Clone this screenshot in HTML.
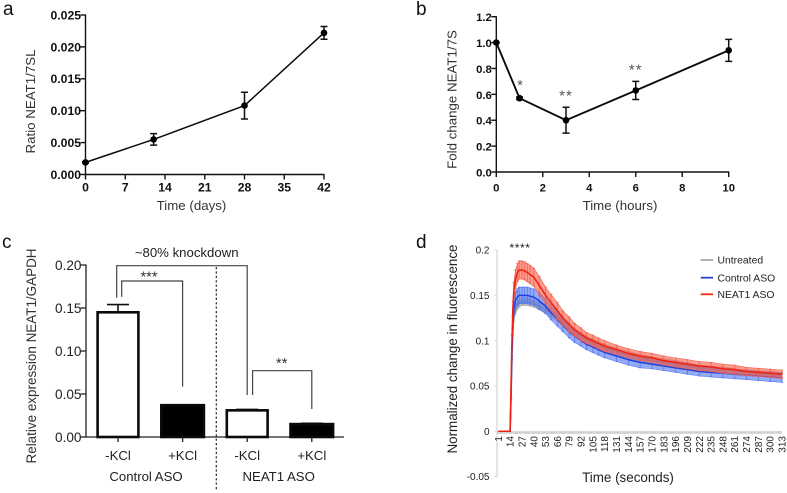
<!DOCTYPE html>
<html lang="en">
<head>
<meta charset="utf-8">
<title>NEAT1 expression panels</title>
<style>
html,body{margin:0;padding:0;background:#fff;}
#fig{display:block;width:787px;height:493px;filter:blur(0.35px);}
text{font-family:"Liberation Sans",Arial,sans-serif;}
</style>
</head>
<body>
<svg id="fig" xmlns="http://www.w3.org/2000/svg" width="787" height="493" viewBox="0 0 787 493"></svg>
<script>
// Panel a
const aTimes = [0, 12, 28, 42];
const aValues = [0.0019, 0.0055, 0.0108, 0.0222];
const aErrors = [0.0001, 0.0009, 0.0021, 0.0010];
const aXTicks = [0, 7, 14, 21, 28, 35, 42];
const aYTicks = ['0.000', '0.005', '0.010', '0.015', '0.020', '0.025'];

// Panel b
const bTimes = [0, 1, 3, 6, 10];
const bValues = [1.0, 0.57, 0.40, 0.63, 0.94];
const bErrors = [0.0, 0.01, 0.10, 0.07, 0.085];
const bStars = ['', '*', '**', '**', ''];
const bXTicks = [0, 2, 4, 6, 8, 10];
const bYTicks = ['0.0', '0.2', '0.4', '0.6', '0.8', '1.0', '1.2'];

// Panel c
const cCategories = ['-KCl', '+KCl', '-KCl', '+KCl'];
const cValues = [0.145, 0.037, 0.031, 0.015];
const cErrors = [0.009, 0.0005, 0.001, 0.001];
const cFilled = [false, true, false, true];
const cYTicks = ['0.00', '0.05', '0.10', '0.15', '0.20'];

// Panel d
const dTimes = [1,14,15,16,17,18,20,22,24,27,30,33,36,40,46,53,59,66,72,79,85,92,98,105,111,118,131,144,157,170,183,196,209,222,235,248,261,274,287,300,313];
const dUntreated = [0,0,.035,.08,.11,.125,.134,.139,.141,.143,.143,.143,.142,.141,.138,.134,.130,.126,.120,.114,.109,.105,.101,.098,.095,.092,.088,.084,.081,.078,.076,.074,.072,.070,.069,.068,.066,.065,.064,.063,.062];
const dUntreatedErr = [0,0,.002,.003,.004,.004,.004,.004,.004,.004,.004,.004,.004,.004,.004,.004,.004,.004,.004,.004,.004,.004,.004,.004,.004,.004,.004,.004,.004,.004,.004,.004,.004,.003,.003,.003,.003,.003,.003,.003,.003];
const dControl = [0,0,.04,.085,.12,.135,.145,.148,.150,.150,.150,.150,.149,.148,.144,.138,.131,.124,.117,.110,.105,.100,.096,.093,.090,.087,.083,.079,.076,.074,.072,.070,.068,.066,.065,.064,.063,.062,.061,.060,.059];
const dControlErr = [0,0,.004,.006,.008,.008,.009,.009,.009,.009,.009,.009,.009,.009,.009,.008,.008,.008,.007,.007,.007,.006,.006,.006,.006,.006,.006,.006,.006,.005,.005,.005,.005,.005,.005,.005,.005,.005,.005,.005,.005];
const dNeat1 = [0,0,.05,.10,.135,.155,.168,.175,.178,.178,.177,.175,.173,.170,.161,.150,.142,.133,.125,.118,.112,.107,.103,.100,.097,.094,.090,.086,.083,.081,.078,.076,.074,.072,.071,.069,.068,.066,.065,.064,.063];
const dNeat1Err = [0,0,.004,.006,.008,.009,.010,.010,.010,.010,.010,.010,.010,.010,.010,.009,.009,.009,.008,.008,.007,.007,.006,.006,.006,.006,.005,.005,.005,.005,.005,.005,.005,.005,.005,.005,.005,.0045,.0045,.0045,.0045];
const dXTicks = [1,14,27,40,53,66,79,92,105,118,131,144,157,170,183,196,209,222,235,248,261,274,287,300,313];
const dYTicks = [-0.05, 0, 0.05, 0.1, 0.15, 0.2];
const dLegend = ['Untreated', 'Control ASO', 'NEAT1 ASO'];

const svg = document.getElementById('fig');
const NS = 'http://www.w3.org/2000/svg';
function mk(tag, attrs, parent, txt) {
  const n = document.createElementNS(NS, tag);
  for (const k in attrs) n.setAttribute(k, attrs[k]);
  if (txt !== undefined) n.textContent = txt;
  (parent || svg).appendChild(n);
  return n;
}
function scale(d0, d1, r0, r1) { return v => r0 + (v - d0) * (r1 - r0) / (d1 - d0); }
let el;

// Panel letters
[['a', 3, 15], ['b', 416, 15], ['c', 2, 248], ['d', 416, 248]].forEach(p => {
  el = mk('text', {x: p[1], y: p[2], 'font-size': 19, fill: '#111'}, svg, p[0]);
  
  
});

// Shared drawing for panels a and b
function linePanel(name, times, values, errors, xTicks, yTicks, xs, ys, yLabel, yTitle, xTitle, yTitleX, yTitleY, xTitleX, sw) {
  const g = mk('g', {}, svg);
  
  
  const x0 = xs(xTicks[0]), x1 = xs(xTicks[xTicks.length - 1]);
  const yb = ys(+yTicks[0]), yt = ys(+yTicks[yTicks.length - 1]);
  el = mk('line', {x1: x0, x2: x0, y1: yt - 0.5, y2: yb + 0.5, stroke: '#111', 'stroke-width': 1.4}, g);
  
  
  el = mk('line', {x1: x0 - 0.5, x2: x1 + 0.5, y1: yb, y2: yb, stroke: '#111', 'stroke-width': 1.4}, g);
  
  
  yTicks.forEach(t => {
    const y = ys(+t);
    mk('line', {x1: x0 - 5, x2: x0, y1: y, y2: y, stroke: '#111', 'stroke-width': 1.4}, g);
    el = mk('text', {x: x0 - 4.5, y: y + 4.4, 'text-anchor': 'end', 'font-size': yLabel, 'font-weight': 'bold', fill: '#111'}, g, t);
    
    
  });
  xTicks.forEach(t => {
    const x = xs(t);
    mk('line', {x1: x, x2: x, y1: yb, y2: yb + 5, stroke: '#111', 'stroke-width': 1.4}, g);
    el = mk('text', {x: x, y: 191.5, 'text-anchor': 'middle', 'font-size': yLabel, 'font-weight': 'bold', fill: '#111'}, g, String(t));
    
    
  });
  el = mk('text', {x: xTitleX, y: 210, 'text-anchor': 'middle', 'font-size': 13.3, fill: '#333'}, g, xTitle);
  
  
  el = mk('text', {transform: 'translate(' + yTitleX + ',' + yTitleY + ') rotate(-90)', 'text-anchor': 'middle', 'font-size': 13.3, fill: '#333'}, g, yTitle);
  
  
  el = mk('polyline', {points: times.map((t, i) => xs(t) + ',' + ys(values[i])).join(' '), fill: 'none', stroke: '#0a0a0a', 'stroke-width': sw}, g);
  
  
  times.forEach((t, i) => {
    const x = xs(t), hi = ys(values[i] + errors[i]), lo = ys(values[i] - errors[i]);
    const eb = mk('path', {d: 'M' + (x - 3.5) + ' ' + hi + 'H' + (x + 3.5) + 'M' + x + ' ' + hi + 'V' + lo + 'M' + (x - 3.5) + ' ' + lo + 'H' + (x + 3.5), fill: 'none', stroke: '#111', 'stroke-width': 1.5}, g);
    
    
    el = mk('circle', {cx: x, cy: ys(values[i]), r: 3.3, fill: '#000'}, g);
    
    
  });
  return g;
}

const axX = scale(0, 42, 85.5, 324);
const axY = scale(0, 0.025, 174.5, 15);
linePanel('panel-a-line-chart', aTimes, aValues, aErrors, aXTicks, aYTicks, axX, axY, 12.2, 'Ratio NEAT1/7SL', 'Time (days)', 35, 101.5, 191.5, 1.5);

const bxX = scale(0, 10, 496.3, 728.7);
const bxY = scale(0, 1.2, 172, 16.7);
const bGroup = linePanel('panel-b-line-chart', bTimes, bValues, bErrors, bXTicks, bYTicks, bxX, bxY, 11.3, 'Fold change NEAT1/7S', 'Time (hours)', 456.7, 99.5, 620, 1.9);
bTimes.forEach((t, i) => {
  if (!bStars[i]) return;
  el = mk('text', {x: bxX(t) + (i === 1 ? 1 : 0), y: bxY(bValues[i] + bErrors[i]) - 7, 'text-anchor': 'middle', 'font-size': 15, 'letter-spacing': 1, fill: '#555'}, bGroup, bStars[i]);
  
  
});

// Panel c
const cG = mk('g', {}, svg);


const cX = i => 118 + i * 64.6;
const cY = scale(0, 0.20, 437, 265);
const cHalf = [21.7, 22.6, 21.7, 22.6];
el = mk('line', {x1: 86, x2: 86, y1: 264.5, y2: 437.6, stroke: '#222', 'stroke-width': 1.3}, cG);


el = mk('line', {x1: 85.5, x2: 344, y1: 437, y2: 437, stroke: '#222', 'stroke-width': 1.3}, cG);


cYTicks.forEach(t => {
  const y = cY(+t);
  mk('line', {x1: 80.5, x2: 86, y1: y, y2: y, stroke: '#222', 'stroke-width': 1.3}, cG);
  el = mk('text', {x: 81.5, y: y + 4.8, 'text-anchor': 'end', 'font-size': 13.6, fill: '#222'}, cG, t);
  
  
});
cCategories.forEach((c, i) => {
  const x = cX(i), h = cHalf[i], top = cY(cValues[i]);
  el = mk('line', {x1: x, x2: x, y1: cY(cValues[i] + cErrors[i]), y2: top, stroke: '#111', 'stroke-width': 1.6}, cG);
  
  
  el = mk('line', {x1: x - 11, x2: x + 11, y1: cY(cValues[i] + cErrors[i]), y2: cY(cValues[i] + cErrors[i]), stroke: '#111', 'stroke-width': 1.6}, cG);
  
  
  el = mk('rect', {x: x - h + 1.3, y: top, width: 2 * h - 2.6, height: 437 - top, fill: cFilled[i] ? '#000' : '#fff', stroke: '#0a0a0a', 'stroke-width': 2.6}, cG);
  
  
  mk('line', {x1: x, x2: x, y1: 437, y2: 442, stroke: '#222', 'stroke-width': 1.3}, cG);
  el = mk('text', {x: x, y: 460, 'text-anchor': 'middle', 'font-size': 13.2, fill: '#222'}, cG, c);
  
  
});
el = mk('text', {transform: 'translate(36,356) rotate(-90)', 'text-anchor': 'middle', 'font-size': 13.4, fill: '#333', textLength: 215, lengthAdjust: 'spacingAndGlyphs'}, cG, 'Relative expression NEAT1/GAPDH');


el = mk('text', {x: 146, y: 481, 'text-anchor': 'middle', 'font-size': 13.2, fill: '#222'}, cG, 'Control ASO');


el = mk('text', {x: 278.7, y: 481, 'text-anchor': 'middle', 'font-size': 13.2, fill: '#222'}, cG, 'NEAT1 ASO');


el = mk('text', {x: 186.7, y: 257, 'text-anchor': 'middle', 'font-size': 13.2, fill: '#222'}, cG, '~80% knockdown');


el = mk('line', {x1: 216.3, x2: 216.3, y1: 267, y2: 491, stroke: '#222', 'stroke-width': 1.2, 'stroke-dasharray': '2.2 2.2'}, cG);


el = mk('path', {d: 'M' + (cX(0) - 1.3) + ' 297.7V265.7H' + cX(2) + 'V395', fill: 'none', stroke: '#444', 'stroke-width': 1.2}, cG);


el = mk('path', {d: 'M' + (cX(0) + 3.7) + ' 296.7V281H' + cX(1) + 'V386.7', fill: 'none', stroke: '#444', 'stroke-width': 1.2}, cG);


el = mk('path', {d: 'M' + (cX(2) + 5.4) + ' 395V370.7H' + cX(3) + 'V409', fill: 'none', stroke: '#444', 'stroke-width': 1.2}, cG);


el = mk('text', {x: 149, y: 281.5, 'text-anchor': 'middle', 'font-size': 14.6, fill: '#333'}, cG, '***');


el = mk('text', {x: 281.7, y: 368, 'text-anchor': 'middle', 'font-size': 14.6, fill: '#333'}, cG, '**');



// Panel d
const dG = mk('g', {}, svg);


const dX = scale(1, 313, 498.3, 782);
const dY = scale(0, 0.2, 431.3, 250);
el = mk('line', {x1: 497, x2: 497, y1: dY(0.2), y2: dY(-0.05), stroke: '#d4d4d4', 'stroke-width': 1.2}, dG);


el = mk('line', {x1: 497, x2: 782, y1: dY(0) + 1.2, y2: dY(0) + 1.2, stroke: '#bdbdbd', 'stroke-width': 2.8, 'stroke-dasharray': '0.6 0.3'}, dG);


dYTicks.forEach(t => {
  const y = dY(t);
  mk('line', {x1: 494.5, x2: 497, y1: y, y2: y, stroke: '#d0d0d0', 'stroke-width': 1}, dG);
  el = mk('text', {x: 489.5, y: y + 3.6, 'text-anchor': 'end', 'font-size': 10, fill: '#222'}, dG, String(t));
  
  
});
dXTicks.forEach(t => {
  el = mk('text', {transform: 'translate(' + (dX(t) + 3.5) + ',436) rotate(-90)', 'text-anchor': 'end', 'font-size': 10, fill: '#222'}, dG, String(t));
  
  
});
el = mk('text', {transform: 'translate(457,349) rotate(-90)', 'text-anchor': 'middle', 'font-size': 13.8, fill: '#222', textLength: 209, lengthAdjust: 'spacingAndGlyphs'}, dG, 'Normalized change in fluorescence');


el = mk('text', {x: 628, y: 482, 'text-anchor': 'middle', 'font-size': 13.4, fill: '#222'}, dG, 'Time (seconds)');


el = mk('text', {x: 520, y: 252, 'text-anchor': 'middle', 'font-size': 12, 'letter-spacing': 0.6, fill: '#222'}, dG, '****');



function dSeries(name, vals, errs, color, band, bandOpacity) {
  const g = mk('g', {}, dG);
  
  
  const up = dTimes.map((t, i) => dX(t) + ',' + dY(vals[i] + errs[i]));
  const dn = dTimes.map((t, i) => dX(t) + ',' + dY(vals[i] - errs[i])).reverse();
  el = mk('polygon', {points: up.concat(dn).join(' '), fill: band, 'fill-opacity': bandOpacity, stroke: band, 'stroke-width': 0.6}, g);
  
  
  dTimes.forEach((t, i) => {
    if (!errs[i]) return;
    const x = dX(t), hi = dY(vals[i] + errs[i]), lo = dY(vals[i] - errs[i]);
    el = mk('path', {d: 'M' + (x - 1.2) + ' ' + hi + 'H' + (x + 1.2) + 'M' + x + ' ' + hi + 'V' + lo + 'M' + (x - 1.2) + ' ' + lo + 'H' + (x + 1.2), fill: 'none', stroke: band, 'stroke-width': 0.8}, g);
    
    
  });
  el = mk('polyline', {points: dTimes.map((t, i) => dX(t) + ',' + dY(vals[i])).join(' '), fill: 'none', stroke: color, 'stroke-width': 1.5}, g);
  
  
}
dSeries('series-untreated', dUntreated, dUntreatedErr, '#8e8e8e', '#a4a4a4', 0.7);
dSeries('series-control-aso', dControl, dControlErr, '#2040e0', '#5478f0', 0.62);
dSeries('series-neat1-aso', dNeat1, dNeat1Err, '#f2200f', '#f7604c', 0.62);

const dLegendColors = ['#aaaaaa', '#2a46d8', '#f2281c'];
const dLegendRows = [260, 277.7, 294.3];
dLegend.forEach((label, i) => {
  const g = mk('g', {}, dG);
  
  
  mk('line', {x1: 700.7, x2: 713, y1: dLegendRows[i], y2: dLegendRows[i], stroke: dLegendColors[i], 'stroke-width': 1.8}, g);
  mk('text', {x: 717.5, y: dLegendRows[i] + 3.7, 'font-size': 10.4, fill: '#222'}, g, label);
});
</script>
</body>
</html>
